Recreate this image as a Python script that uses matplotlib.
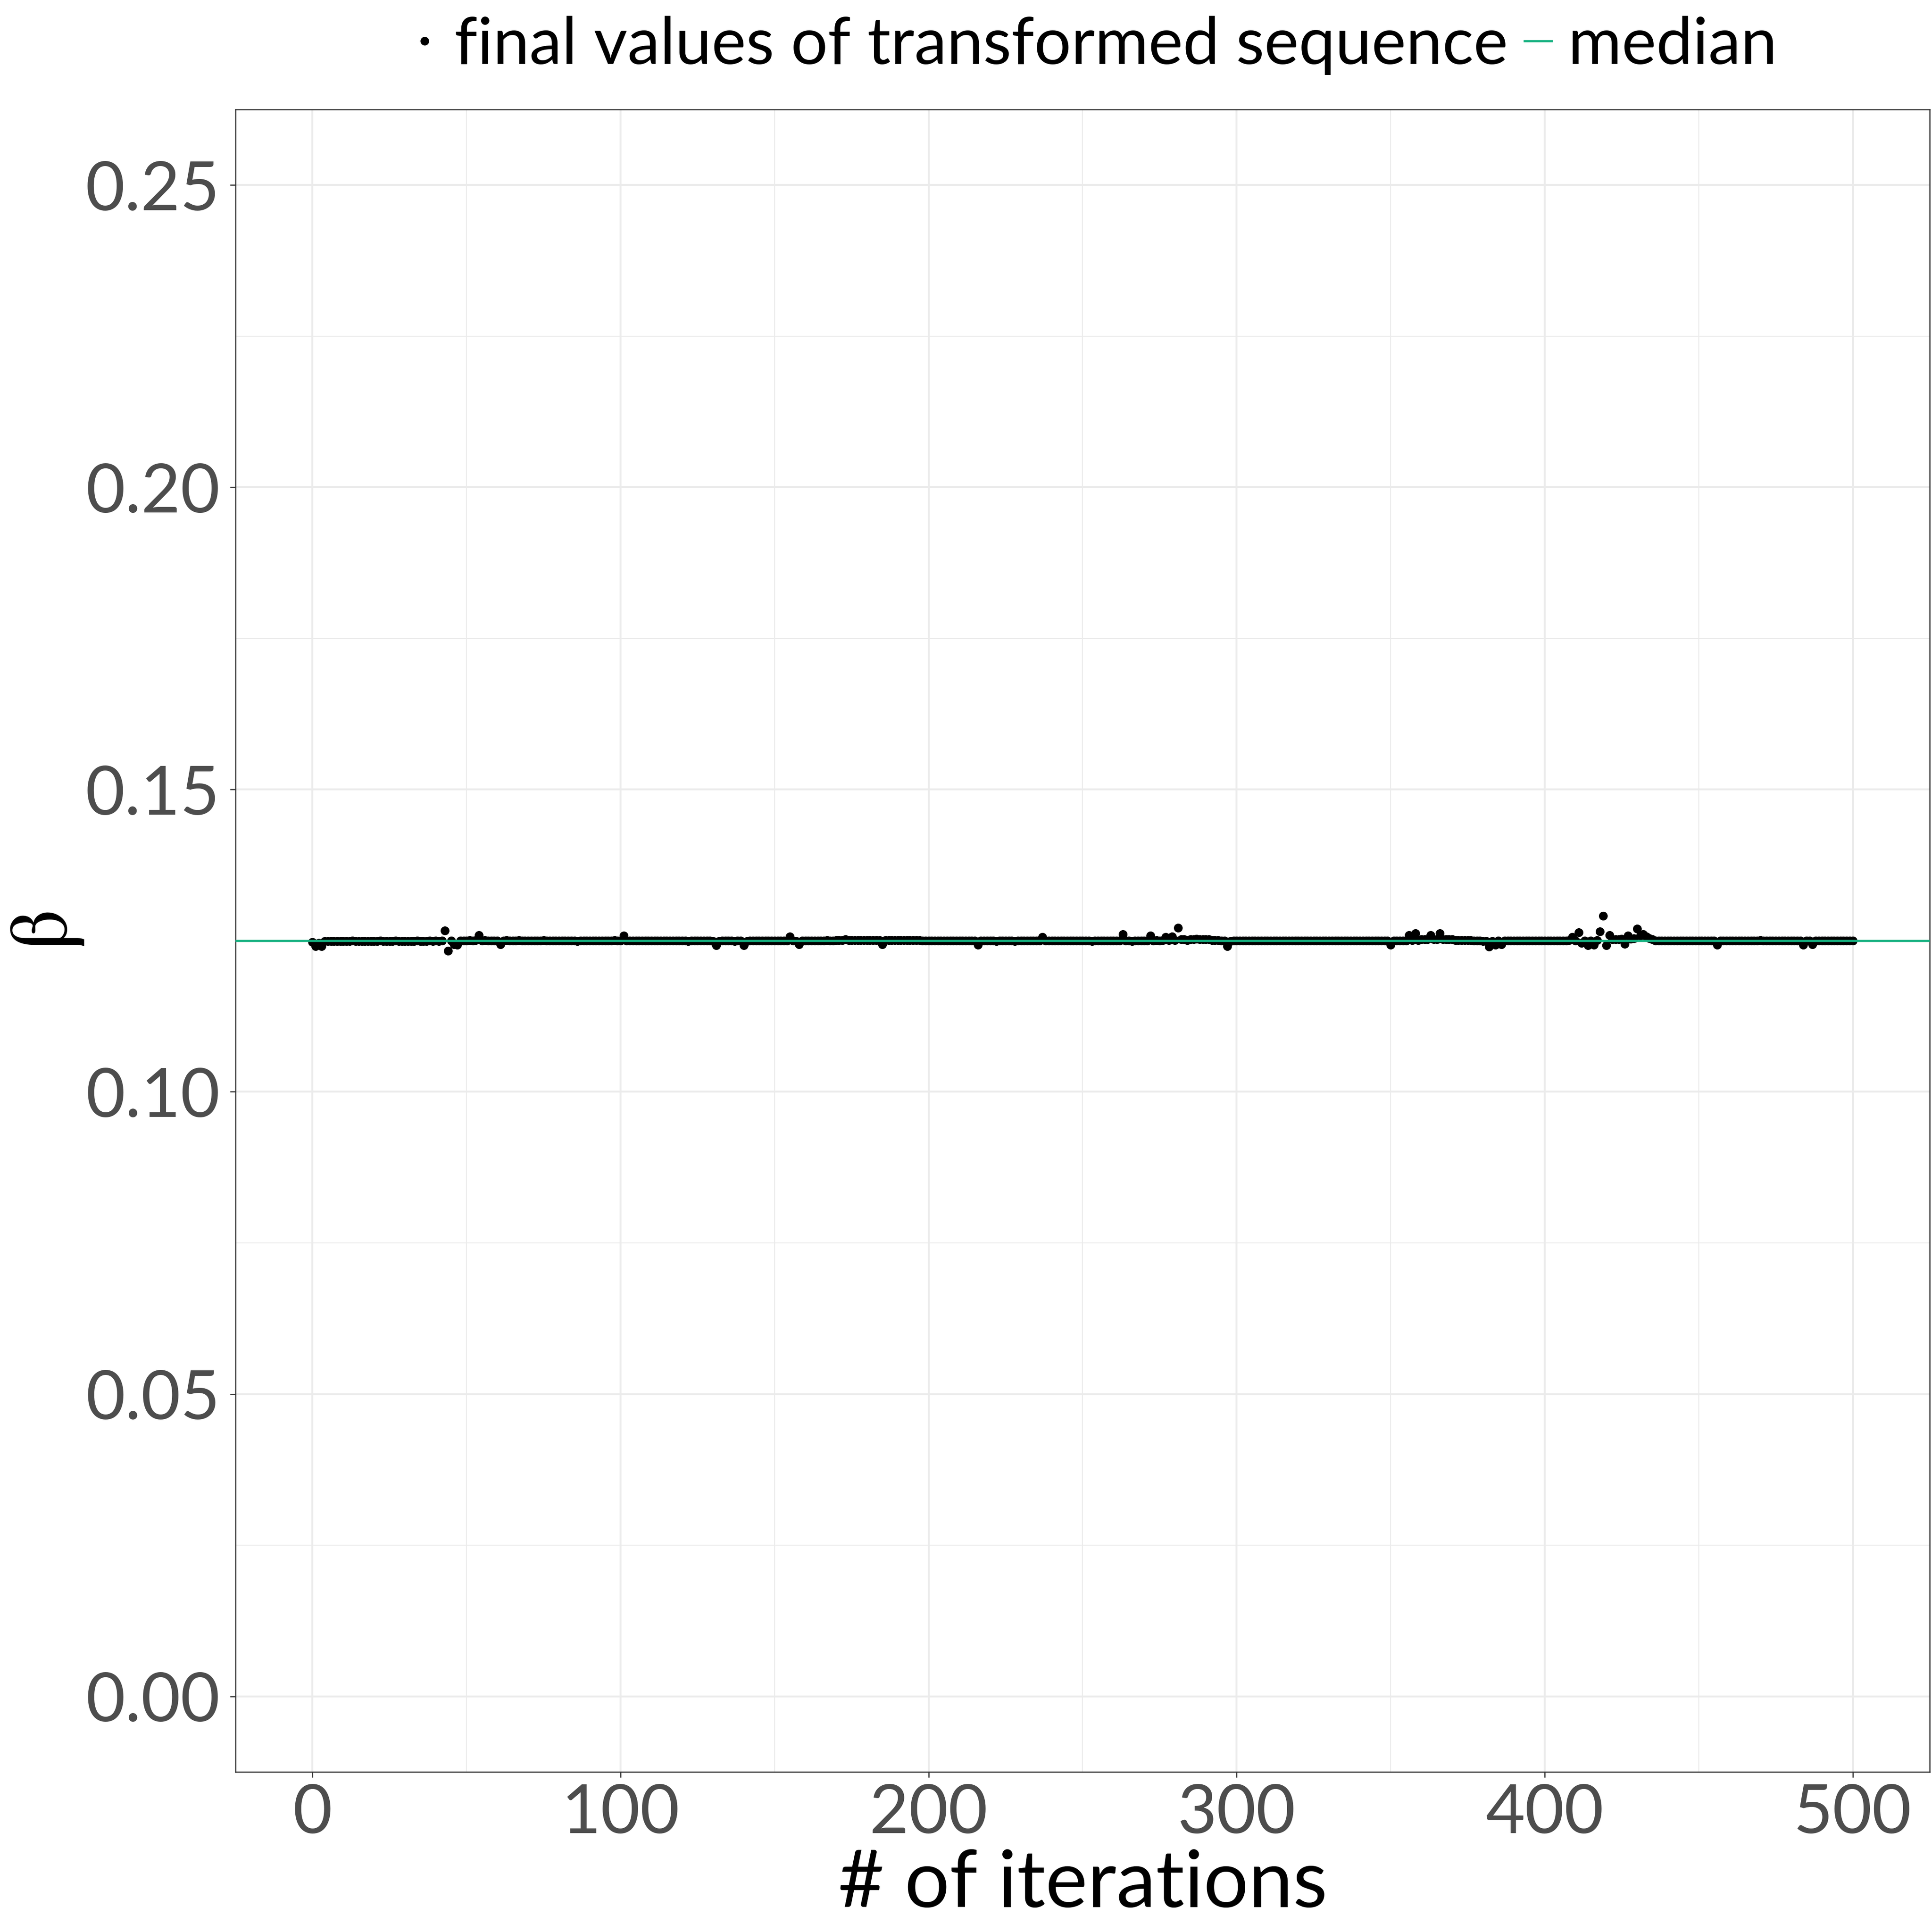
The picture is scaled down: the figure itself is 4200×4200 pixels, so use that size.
import numpy as np
import matplotlib
matplotlib.use("Agg")
import matplotlib.pyplot as plt
from matplotlib.lines import Line2D

plt.rcParams['font.family'] = ['Lato', 'DejaVu Sans']

# ---------------- data ----------------
iterations = list(range(0, 501))

beta_values = [
    0.1248, 0.1241, 0.1246, 0.1241, 0.1249, 0.1249, 0.1249, 0.1249, 0.1249, 0.1249,  # 0
    0.1249, 0.1249, 0.1249, 0.1250, 0.1249, 0.1249, 0.1249, 0.1249, 0.1249, 0.1249,  # 10
    0.1249, 0.1249, 0.1250, 0.1249, 0.1249, 0.1249, 0.1249, 0.1250, 0.1249, 0.1249,  # 20
    0.1249, 0.1249, 0.1249, 0.1249, 0.1250, 0.1249, 0.1249, 0.1249, 0.1250, 0.1249,  # 30
    0.1250, 0.1249, 0.1250, 0.1267, 0.1233, 0.1250, 0.1244, 0.1243, 0.1250, 0.1250,  # 40
    0.1250, 0.1251, 0.1250, 0.1251, 0.1259, 0.1250, 0.1251, 0.1250, 0.1250, 0.1250,  # 50
    0.1250, 0.1244, 0.1250, 0.1251, 0.1250, 0.1250, 0.1250, 0.1251, 0.1250, 0.1250,  # 60
    0.1250, 0.1250, 0.1250, 0.1250, 0.1250, 0.1251, 0.1250, 0.1250, 0.1250, 0.1250,  # 70
    0.1250, 0.1250, 0.1250, 0.1250, 0.1250, 0.1250, 0.1249, 0.1250, 0.1250, 0.1250,  # 80
    0.1250, 0.1250, 0.1250, 0.1250, 0.1250, 0.1250, 0.1250, 0.1250, 0.1251, 0.1250,  # 90
    0.1250, 0.1258, 0.1250, 0.1250, 0.1250, 0.1250, 0.1250, 0.1250, 0.1250, 0.1250,  # 100
    0.1250, 0.1250, 0.1250, 0.1250, 0.1250, 0.1250, 0.1250, 0.1250, 0.1250, 0.1250,  # 110
    0.1250, 0.1250, 0.1249, 0.1250, 0.1250, 0.1250, 0.1250, 0.1250, 0.1250, 0.1250,  # 120
    0.1249, 0.1242, 0.1249, 0.1250, 0.1250, 0.1250, 0.1250, 0.1249, 0.1250, 0.1250,  # 130
    0.1242, 0.1249, 0.1250, 0.1250, 0.1250, 0.1250, 0.1250, 0.1250, 0.1250, 0.1250,  # 140
    0.1250, 0.1250, 0.1250, 0.1250, 0.1250, 0.1257, 0.1250, 0.1249, 0.1244, 0.1250,  # 150
    0.1250, 0.1250, 0.1250, 0.1250, 0.1250, 0.1250, 0.1250, 0.1251, 0.1250, 0.1250,  # 160
    0.1251, 0.1251, 0.1251, 0.1252, 0.1251, 0.1251, 0.1251, 0.1251, 0.1251, 0.1251,  # 170
    0.1251, 0.1251, 0.1251, 0.1251, 0.1251, 0.1244, 0.1251, 0.1251, 0.1251, 0.1251,  # 180
    0.1251, 0.1251, 0.1251, 0.1251, 0.1251, 0.1251, 0.1251, 0.1251, 0.1250, 0.1250,  # 190
    0.1250, 0.1250, 0.1250, 0.1250, 0.1250, 0.1250, 0.1250, 0.1250, 0.1250, 0.1250,  # 200
    0.1250, 0.1250, 0.1250, 0.1250, 0.1250, 0.1250, 0.1243, 0.1250, 0.1250, 0.1250,  # 210
    0.1250, 0.1250, 0.1249, 0.1250, 0.1250, 0.1250, 0.1250, 0.1250, 0.1249, 0.1250,  # 220
    0.1250, 0.1250, 0.1250, 0.1250, 0.1250, 0.1250, 0.1250, 0.1256, 0.1250, 0.1250,  # 230
    0.1250, 0.1250, 0.1250, 0.1250, 0.1250, 0.1250, 0.1250, 0.1250, 0.1250, 0.1250,  # 240
    0.1250, 0.1250, 0.1250, 0.1249, 0.1250, 0.1250, 0.1250, 0.1250, 0.1250, 0.1250,  # 250
    0.1250, 0.1250, 0.1250, 0.1261, 0.1250, 0.1250, 0.1249, 0.1250, 0.1250, 0.1250,  # 260
    0.1250, 0.1250, 0.1258, 0.1250, 0.1251, 0.1250, 0.1251, 0.1256, 0.1251, 0.1257,  # 270
    0.1251, 0.1271, 0.1252, 0.1252, 0.1251, 0.1252, 0.1252, 0.1253, 0.1252, 0.1252,  # 280
    0.1252, 0.1252, 0.1251, 0.1251, 0.1251, 0.1250, 0.1250, 0.1241, 0.1249, 0.1250,  # 290
    0.1250, 0.1250, 0.1250, 0.1250, 0.1250, 0.1250, 0.1250, 0.1250, 0.1250, 0.1250,  # 300
    0.1250, 0.1250, 0.1250, 0.1250, 0.1250, 0.1250, 0.1250, 0.1250, 0.1250, 0.1250,  # 310
    0.1250, 0.1250, 0.1250, 0.1250, 0.1250, 0.1250, 0.1250, 0.1250, 0.1250, 0.1250,  # 320
    0.1250, 0.1250, 0.1250, 0.1250, 0.1250, 0.1250, 0.1250, 0.1250, 0.1250, 0.1250,  # 330
    0.1250, 0.1250, 0.1250, 0.1250, 0.1250, 0.1250, 0.1250, 0.1250, 0.1250, 0.1250,  # 340
    0.1243, 0.1250, 0.1250, 0.1250, 0.1250, 0.1250, 0.1259, 0.1251, 0.1262, 0.1251,  # 350
    0.1252, 0.1252, 0.1252, 0.1259, 0.1252, 0.1252, 0.1262, 0.1252, 0.1252, 0.1252,  # 360
    0.1252, 0.1251, 0.1251, 0.1251, 0.1251, 0.1251, 0.1251, 0.1250, 0.1250, 0.1250,  # 370
    0.1249, 0.1249, 0.1240, 0.1249, 0.1243, 0.1250, 0.1244, 0.1250, 0.1250, 0.1250,  # 380
    0.1250, 0.1250, 0.1250, 0.1250, 0.1250, 0.1250, 0.1250, 0.1250, 0.1250, 0.1250,  # 390
    0.1250, 0.1250, 0.1250, 0.1250, 0.1250, 0.1250, 0.1250, 0.1250, 0.1251, 0.1256,  # 400
    0.1250, 0.1264, 0.1246, 0.1250, 0.1242, 0.1250, 0.1243, 0.1251, 0.1265, 0.1291,  # 410
    0.1242, 0.1259, 0.1252, 0.1252, 0.1252, 0.1253, 0.1245, 0.1258, 0.1253, 0.1254,  # 420
    0.1270, 0.1258, 0.1261, 0.1257, 0.1254, 0.1252, 0.1250, 0.1250, 0.1250, 0.1250,  # 430
    0.1250, 0.1250, 0.1250, 0.1250, 0.1250, 0.1250, 0.1250, 0.1250, 0.1250, 0.1250,  # 440
    0.1250, 0.1250, 0.1250, 0.1250, 0.1250, 0.1250, 0.1243, 0.1250, 0.1250, 0.1250,  # 450
    0.1250, 0.1250, 0.1250, 0.1250, 0.1250, 0.1250, 0.1250, 0.1250, 0.1250, 0.1250,  # 460
    0.1251, 0.1250, 0.1250, 0.1250, 0.1250, 0.1250, 0.1250, 0.1250, 0.1250, 0.1250,  # 470
    0.1250, 0.1250, 0.1250, 0.1250, 0.1243, 0.1250, 0.1250, 0.1244, 0.1250, 0.1250,  # 480
    0.1250, 0.1250, 0.1250, 0.1250, 0.1250, 0.1250, 0.1250, 0.1250, 0.1250, 0.1250,  # 490
    0.1250,                                                                          # 500
]

x_ticks = [0, 100, 200, 300, 400, 500]
x_minor = [50, 150, 250, 350, 450]
y_ticks = [0.00, 0.05, 0.10, 0.15, 0.20, 0.25]
y_tick_labels = ['0.00', '0.05', '0.10', '0.15', '0.20', '0.25']
y_minor = [0.025, 0.075, 0.125, 0.175, 0.225]
legend_labels = ['final values of transformed sequence', 'median']
x_title = '# of iterations'
y_title = 'β'

median_value = float(np.median(beta_values))

# ---------------- style ----------------
GREEN = '#14B07F'
GRID = '#EBEBEB'
DARK = '#333333'
TICKTXT = '#4D4D4D'
DPI = 300
BETA_FAMILY = ['STIXGeneral', 'Liberation Serif', 'DejaVu Serif']


def ink_box(text, size, family, rotation):
    """Ink extent (pixels) of a text drawn centred on a scratch canvas."""
    f = plt.figure(figsize=(3, 3), dpi=DPI)
    f.text(0.5, 0.5, text, rotation=rotation, ha='center', va='center',
           family=family, fontsize=size, color='black')
    f.canvas.draw()
    a = np.asarray(f.canvas.buffer_rgba())[:, :, 0]
    h, w = a.shape
    ys, xs = np.where(a < 128)
    plt.close(f)
    return xs.min() - w / 2, xs.max() - w / 2, ys.min() - h / 2, ys.max() - h / 2


fig = plt.figure(figsize=(14, 14), dpi=DPI)
W = H = 14 * DPI
ax = fig.add_axes([0.1219, 0.0829, 0.8769, 0.8604])

ax.set_xlim(-25, 525)
ax.set_ylim(-0.0125, 0.2625)

ax.set_xticks(x_ticks)
ax.set_xticks(x_minor, minor=True)
ax.set_yticks(y_ticks)
ax.set_yticklabels(y_tick_labels)
ax.set_yticks(y_minor, minor=True)

ax.grid(which='major', color=GRID, linewidth=1.0, zorder=0)
ax.grid(which='minor', color=GRID, linewidth=0.5, zorder=0)
ax.set_axisbelow(True)

ax.tick_params(axis='both', which='major', length=2.9, width=0.6, color=DARK,
               labelcolor=TICKTXT, labelsize=35.5)
ax.tick_params(axis='x', which='major', pad=3.0)
ax.tick_params(axis='y', which='major', pad=5.2)
ax.tick_params(which='minor', length=0)

for sp in ax.spines.values():
    sp.set_color(DARK)
    sp.set_linewidth(0.6)

ax.plot(iterations, beta_values, linestyle='none', marker='o', markersize=4.6,
        markeredgewidth=0, color='black', zorder=2)
ax.axhline(median_value, color=GREEN, linewidth=1.1, zorder=3)

ax.set_xlabel(x_title, fontsize=41.5, color='black')
ax.xaxis.set_label_coords(0.5, -0.046)

# y axis title: serif beta, rotated; size/position tuned to the glyph's ink box
target_len, target_cx, target_cy = 160.0, 102.0, 2020.0   # pixels (from top-left)
base_size = 44.0
x0, x1, y0, y1 = ink_box(y_title, base_size, BETA_FAMILY, 90)
beta_size = base_size * target_len / max(x1 - x0, 1)
x0, x1, y0, y1 = ink_box(y_title, beta_size, BETA_FAMILY, 90)
off_x = (x0 + x1) / 2
off_y = (y0 + y1) / 2
fig.text((target_cx - off_x) / W, 1 - (target_cy - off_y) / H, y_title, rotation=90,
         ha='center', va='center', family=BETA_FAMILY, fontsize=beta_size, color='black')

handles = [
    Line2D([], [], linestyle='none', marker='o', markersize=4.5, markeredgewidth=0, color='black'),
    Line2D([], [], color=GREEN, linewidth=1.1),
]
fig.legend(handles, legend_labels, loc='center', bbox_to_anchor=(0.5662, 0.9765),
           ncol=2, frameon=False, fontsize=34, handlelength=0.42, handletextpad=0.25,
           columnspacing=0.25, borderpad=0, borderaxespad=0)

fig.savefig('out.png', dpi=DPI)
